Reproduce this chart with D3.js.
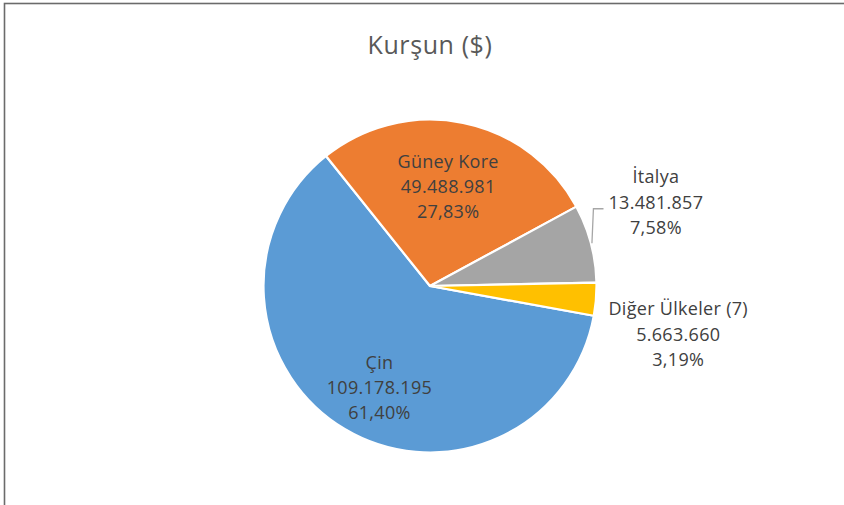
<!DOCTYPE html>
<html>
<head>
<meta charset="utf-8">
<script src="https://cdn.jsdelivr.net/npm/d3@7"></script>
<style>
  body { margin: 0; background: #fff; }
  svg { display: block; font-family: "Open Sans", "Noto Sans", sans-serif; }
</style>
</head>
<body>
<svg id="chart" width="844" height="505"></svg>
<script>
const title = "Kurşun ($)";
const countries = ["Çin", "Güney Kore", "İtalya", "Diğer Ülkeler (7)"];
const values = [109178195, 49488981, 13481857, 5663660];
const colors = ["#5b9bd5", "#ed7d31", "#a5a5a5", "#ffc000"];
// which labels sit outside the pie (Excel "best fit")
const outside = [false, false, true, true];

const tr = d3.formatLocale({decimal: ",", thousands: ".", grouping: [3], currency: ["", " $"]});
const fmtNum = tr.format(",d");
const fmtPct = tr.format(".2%");

const svg = d3.select("#chart");
const W = 844, H = 505;
const cx = 430, cy = 286, R = 166.5;

// chart area border (runs off the bottom/right of the picture)
svg.append("rect")
  .attr("x", 4.5).attr("y", 3.5)
  .attr("width", W + 40).attr("height", H + 40)
  .attr("fill", "#fff")
  .attr("stroke", "#6b6b6b")
  .attr("stroke-width", 1.6);

svg.append("text")
  .attr("x", cx).attr("y", 54)
  .attr("text-anchor", "middle")
  .attr("fill", "#595959")
  .attr("font-size", 25)
  .attr("letter-spacing", 0.6)
  .text(title);

const total = d3.sum(values);
const data = countries.map((c, i) => ({name: c, value: values[i], color: colors[i], outside: outside[i]}));

const start = 100.3 * Math.PI / 180;
const pie = d3.pie().sort(null).value(d => d.value)
  .startAngle(start).endAngle(start + 2 * Math.PI);
const arcs = pie(data);
const arc = d3.arc().innerRadius(0).outerRadius(R);

const g = svg.append("g").attr("transform", `translate(${cx},${cy})`);

g.selectAll("path.slice")
  .data(arcs)
  .join("path")
  .attr("class", "slice")
  .attr("d", arc)
  .attr("fill", d => d.data.color)
  .attr("stroke", "#fff")
  .attr("stroke-width", 2.2)
  .attr("stroke-linejoin", "round");

const lineH = 25.3;
const labelArc = d3.arc().innerRadius(R * 0.64).outerRadius(R * 0.64);
// Excel nudges its "best fit" labels a little; offsets from the centroid
const inNudge = {0: [4, 10], 1: [-3, 5]};
// outside labels were pulled apart by hand in the original
const nudge = {2: -41, 3: 35};

arcs.forEach((a, i) => {
  const lines = [a.data.name, fmtNum(a.data.value), fmtPct(a.data.value / total)];
  let x, y;
  if (!a.data.outside) {
    [x, y] = labelArc.centroid(a);
    x += inNudge[i][0];
    y += inNudge[i][1];
  } else {
    const mid = (a.startAngle + a.endAngle) / 2;
    x = R + 12;
    y = -Math.cos(mid) * R + nudge[i];
  }
  const t = g.append("text")
    .attr("text-anchor", "middle")
    .attr("fill", "#404040")
    .attr("font-size", 18)
    .attr("letter-spacing", 0.3);
  lines.forEach((s, k) => {
    t.append("tspan")
      .attr("x", x)
      .attr("y", y + (k - 1) * lineH)
      .attr("dy", "0.35em")
      .text(s);
  });
  if (a.data.outside) {
    const w = t.node().getBBox().width;
    t.selectAll("tspan").attr("x", x + w / 2);
  }
});

// leader line for İtalya
{
  const a = arcs[2];
  const mid = (a.startAngle + a.endAngle) / 2;
  const px = Math.sin(mid) * (R + 1), py = -Math.cos(mid) * (R + 1);
  const ly = -Math.cos(mid) * R + nudge[2] + 0.25 * lineH;
  g.append("path")
    .attr("d", d3.line()([[px, py], [px + 1.5, ly], [R + 7, ly]]))
    .attr("fill", "none")
    .attr("stroke", "#a6a6a6")
    .attr("stroke-width", 1.3);
}
</script>
</body>
</html>
